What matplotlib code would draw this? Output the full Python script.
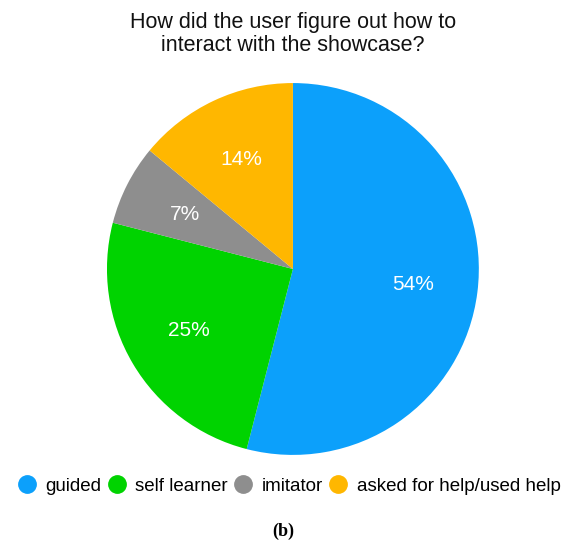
import matplotlib.pyplot as plt
from matplotlib.lines import Line2D

categories = ["guided", "self learner", "imitator", "asked for help/used help"]
shares = [54, 25, 7, 14]
colors = ["#0CA0FB", "#00D300", "#8E8E8E", "#FFB700"]

title = "How did the user figure out how to\ninteract with the showcase?"

plt.rcParams["font.family"] = ["Liberation Sans", "DejaVu Sans"]

fig = plt.figure(figsize=(5.66, 5.58), dpi=100)
ax = fig.add_axes([0.189, 0.1846, 0.657, 0.6667])

wedges, texts, autotexts = ax.pie(
    shares,
    colors=colors,
    startangle=90,
    counterclock=False,
    radius=1.0,
    autopct=lambda p: f"{p:.0f}%",
    pctdistance=0.65,
    wedgeprops=dict(linewidth=0),
    textprops=dict(color="white", fontsize=15),
)
ax.set_xlim(-1, 1)
ax.set_ylim(-1, 1)
ax.set_aspect("equal")
ax.axis("off")

fig.text(293 / 566, 1 - 34 / 558, title, ha="center", va="center", fontsize=15.5,
         linespacing=1.15, color="#111111")

handles = [Line2D([0], [0], marker="o", linestyle="", markersize=12.5,
                  markerfacecolor=c, markeredgecolor=c) for c in colors]
fig.legend(handles, categories, loc="center", bbox_to_anchor=(289 / 566, 1 - 486 / 558),
           ncol=4, frameon=False, fontsize=13.5, handletextpad=0.5,
           columnspacing=0.3, handlelength=1.0, borderpad=0)

fig.text(0.5, 1 - 531 / 558, "(b)", ha="center", va="center", fontsize=13,
         fontweight="bold", family=["Liberation Serif", "DejaVu Serif"])

fig.savefig("out.png", dpi=100)
